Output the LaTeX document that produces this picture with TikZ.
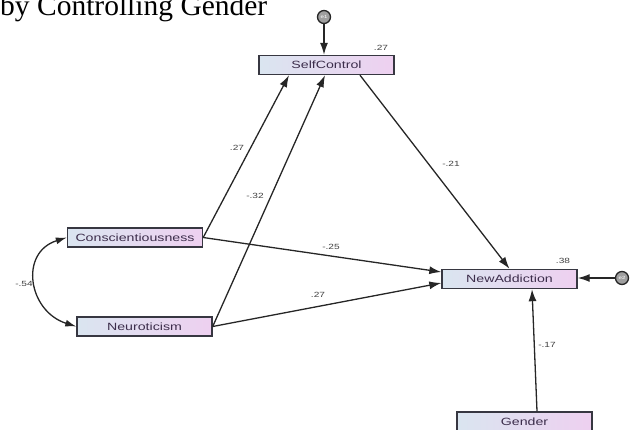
\documentclass[tikz,border=0pt]{standalone}
\usepackage{fontspec}
\setmainfont{Liberation Serif}
\newfontfamily\boxfont[FakeStretch=1.35]{Liberation Sans}
\usetikzlibrary{arrows.meta,calc}
\definecolor{boxl}{RGB}{218,229,240}
\definecolor{boxr}{RGB}{238,208,240}
\definecolor{boxborder}{RGB}{55,55,65}
\definecolor{boxtext}{RGB}{60,45,75}
\begin{document}
\begin{tikzpicture}[x=1pt,y=-1pt,
  var/.style={draw=boxborder, line width=1.4pt, left color=boxl, right color=boxr,
    minimum width=135pt, minimum height=19pt, inner sep=0pt,
    font=\boxfont\fontsize{10.5}{12}\selectfont, text=boxtext},
  pathar/.style={line width=1.3pt, draw=black!85, -{Latex[length=12pt,width=8pt]}},
  lab/.style={font=\boxfont\fontsize{7.5}{8}\selectfont, text=black!75, inner sep=0pt},
  err/.style={circle, draw=black!85, fill=gray!75, minimum size=13pt, inner sep=0pt,
    line width=1.3pt, font=\boxfont\fontsize{4.5}{5}\selectfont, text=white}]
\path[use as bounding box] (0,0) rectangle (637,429);
\clip (0,0) rectangle (637,429);
\node[anchor=base west, inner sep=0pt, font=\fontsize{29.5}{32}\selectfont] (title) at (0,15) {by Controlling Gender};

\node[var] (sc) at (326.5,65) {SelfControl};
\node[var] (na) at (509.5,279) {NewAddiction};
\node[var] (c) at (135,237.5) {Conscientiousness};
\node[var] (n) at (144.5,326.5) {Neuroticism};
\node[var] (g) at (524.5,421.5) {Gender};
\node[err] (e1) at (324,17) {e1};
\node[err] (e2) at (622,278) {e2};

\draw[pathar] (e1.south) -- (e1.south |- sc.north);
\draw[pathar] (e2.west) -- (e2.west -| na.east);
\draw[pathar] (c.east) -- ($(sc.south)+(-37.5,0)$);
\draw[pathar] (n.east) -- ($(sc.south)+(-1.5,0)$);
\draw[pathar] ($(sc.south)+(33.5,0)$) -- (na.north);
\draw[pathar] (c.east) -- ($(na.west)+(0,-7)$);
\draw[pathar] (n.east) -- ($(na.west)+(0,4)$);
\draw[pathar] ($(g.north)+(12.5,0)$) -- ($(na.south)+(22.5,0)$);
\draw[line width=1.3pt, draw=black!85, {Latex[length=11pt,width=7pt]}-{Latex[length=11pt,width=7pt]}]
  (c.west) .. controls +(-48,15) and +(-48,-15) .. (n.west);

\node[lab] (r1) at (381,48) {.27};
\node[lab] (r2) at (563,261) {.38};
\node[lab] (l1) at (237,148) {.27};
\node[lab] (l2) at (255,196) {-.32};
\node[lab] (l3) at (451,164) {-.21};
\node[lab] (l4) at (331,247) {-.25};
\node[lab] (l5) at (318,295) {.27};
\node[lab] (l6) at (547,345) {-.17};
\node[lab] (l7) at (24,284) {-.54};
\end{tikzpicture}
\end{document}
